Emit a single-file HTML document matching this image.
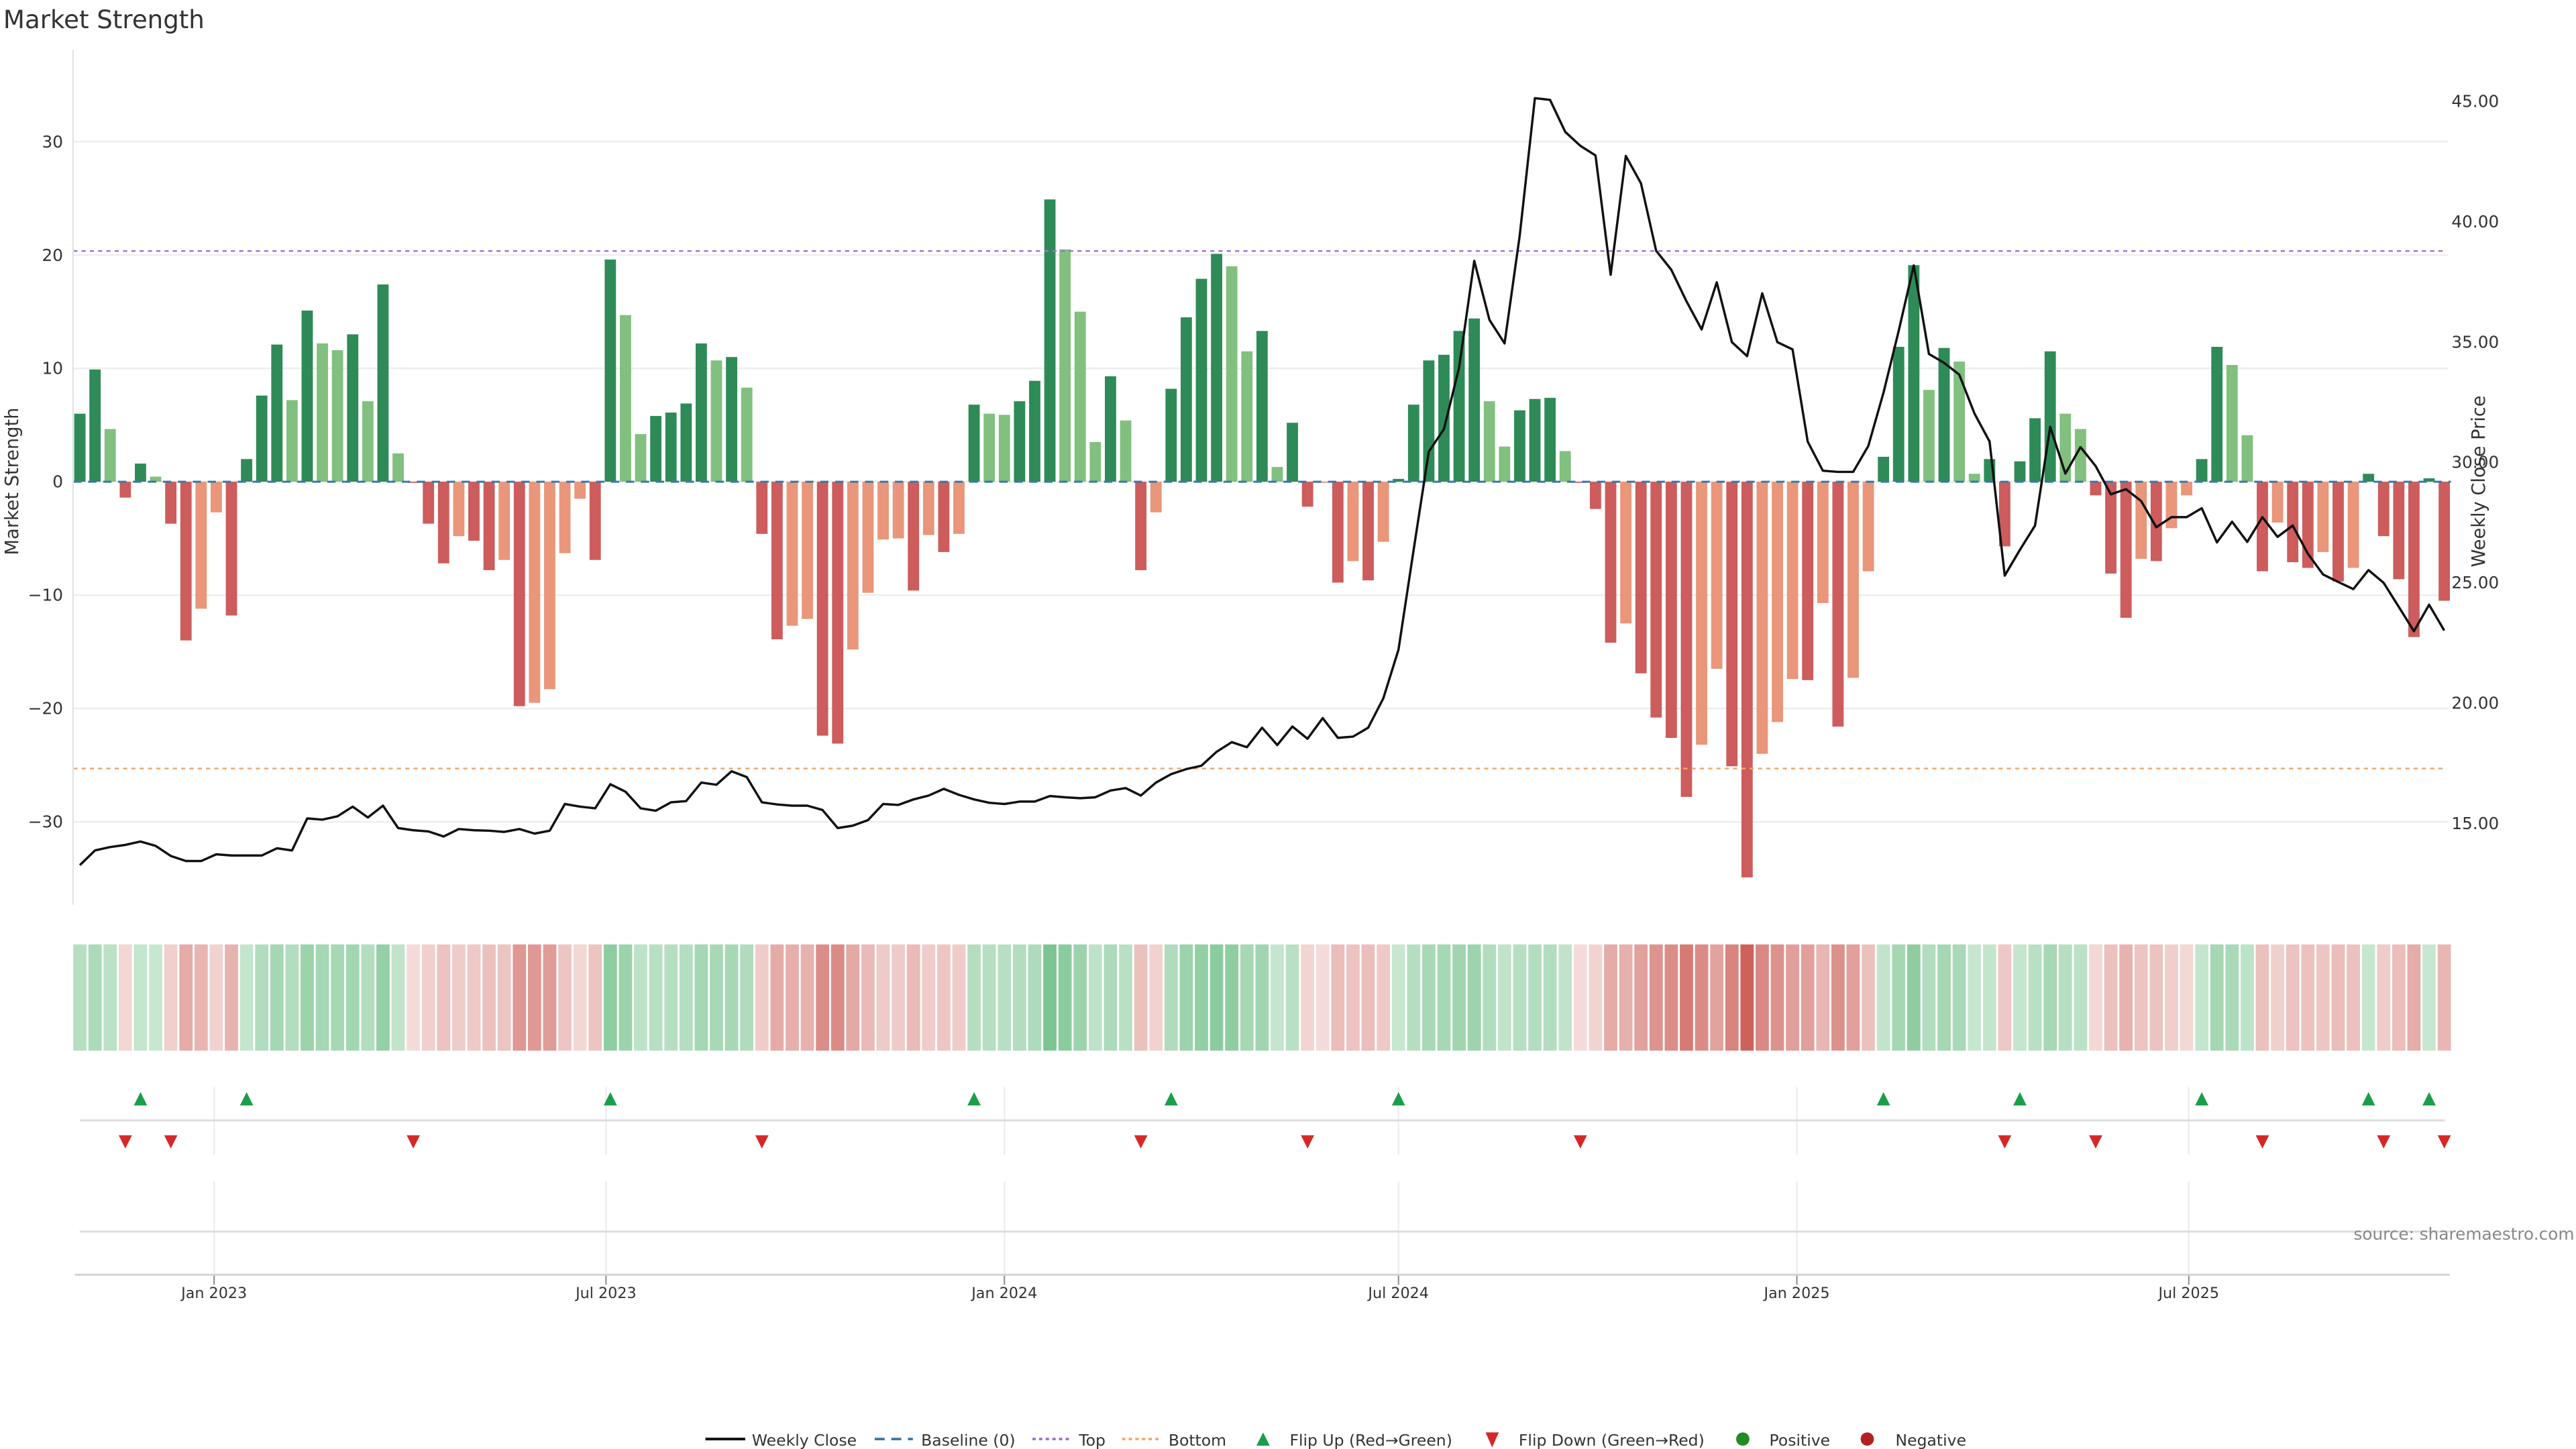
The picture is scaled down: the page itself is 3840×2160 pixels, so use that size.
<!DOCTYPE html>
<html><head><meta charset="utf-8"><title>Market Strength</title>
<style>
html,body{margin:0;padding:0;background:#fff;}
svg{display:block;font-family:"DejaVu Sans","Liberation Sans",sans-serif;}
</style></head>
<body>
<svg id="chart" width="3840" height="2160" viewBox="0 0 1552 873" preserveAspectRatio="none" xmlns="http://www.w3.org/2000/svg">
<rect width="1552" height="873" fill="#fff"/>
<text x="2" y="17" font-size="15" fill="#333">Market Strength</text>
<g id="grid"></g>
<g id="bars"></g>
<g id="lines"></g>
<g id="heat"></g>
<g id="flips"></g>
<g id="axes"></g>
<text transform="translate(11,290) rotate(-90)" text-anchor="middle" font-size="11" fill="#333">Market Strength</text>
<text transform="translate(1497,290) rotate(-90)" text-anchor="middle" font-size="11" fill="#333">Weekly Close Price</text>
<text x="1418" y="747" font-size="10" fill="#888">source: sharemaestro.com</text>
<g id="legend" font-size="9.5" fill="#333">
  <g><line x1="425" y1="867" x2="449" y2="867" stroke="#111" stroke-width="1.6"/><text x="453" y="871">Weekly Close</text></g>
  <g><line x1="527" y1="867" x2="550" y2="867" stroke="#3a78a8" stroke-width="1.5" stroke-dasharray="6,4"/><text x="555" y="871">Baseline (0)</text></g>
  <g><line x1="622" y1="867" x2="645" y2="867" stroke="#a070d8" stroke-width="1.5" stroke-dasharray="2,2"/><text x="650" y="871">Top</text></g>
  <g><line x1="676" y1="867" x2="699" y2="867" stroke="#f0a870" stroke-width="1.5" stroke-dasharray="2,2"/><text x="704" y="871">Bottom</text></g>
  <g><path d="M757,871 L765,871 L761,863 Z" fill="#1a9e4a"/><text x="777" y="871">Flip Up (Red→Green)</text></g>
  <g><path d="M895,863 L903,863 L899,872 Z" fill="#d62728"/><text x="915" y="871">Flip Down (Green→Red)</text></g>
  <g><circle cx="1050" cy="867" r="4" fill="#228b22"/><text x="1066" y="871">Positive</text></g>
  <g><circle cx="1125" cy="867" r="4" fill="#b22222"/><text x="1142" y="871">Negative</text></g>
</g>
</svg>
<script>
const strength = [6.0,9.9,4.65,-1.4,1.6,0.45,-3.7,-14.0,-11.2,-2.7,-11.8,2.0,7.6,12.1,7.2,15.1,12.2,11.6,13.0,7.1,17.4,2.5,-0.1,-3.7,-7.2,-4.8,-5.2,-7.8,-6.9,-19.8,-19.5,-18.3,-6.3,-1.5,-6.9,19.6,14.7,4.2,5.8,6.1,6.9,12.2,10.7,11.0,8.3,-4.6,-13.9,-12.7,-12.1,-22.4,-23.1,-14.8,-9.8,-5.1,-5.0,-9.6,-4.7,-6.2,-4.6,6.8,6.0,5.9,7.1,8.9,24.9,20.5,15.0,3.5,9.3,5.4,-7.8,-2.7,8.2,14.5,17.9,20.1,19.0,11.5,13.3,1.3,5.2,-2.2,-0.1,-8.9,-7.0,-8.7,-5.3,0.25,6.8,10.7,11.2,13.3,14.4,7.1,3.1,6.3,7.3,7.4,2.7,-0.1,-2.4,-14.2,-12.5,-16.9,-20.8,-22.6,-27.8,-23.2,-16.5,-25.1,-34.9,-24.0,-21.2,-17.4,-17.5,-10.7,-21.6,-17.3,-7.9,2.2,11.9,19.1,8.1,11.8,10.6,0.7,2.0,-5.7,1.8,5.6,11.5,6.0,4.65,-1.2,-8.1,-12.0,-6.8,-7.0,-4.1,-1.2,2.0,11.9,10.3,4.1,-7.9,-3.6,-7.1,-7.6,-6.2,-8.8,-7.6,0.7,-4.8,-8.6,-13.7,0.3,-10.5];
const closePrice = [13.26,13.87,14.01,14.10,14.24,14.06,13.64,13.43,13.43,13.71,13.66,13.66,13.66,13.96,13.87,15.20,15.15,15.29,15.69,15.24,15.73,14.80,14.71,14.66,14.45,14.76,14.71,14.69,14.64,14.76,14.57,14.69,15.80,15.69,15.62,16.62,16.31,15.62,15.52,15.87,15.92,16.69,16.60,17.16,16.92,15.87,15.78,15.73,15.73,15.55,14.80,14.90,15.13,15.80,15.76,15.99,16.15,16.43,16.18,15.99,15.85,15.80,15.90,15.90,16.13,16.08,16.04,16.08,16.36,16.46,16.15,16.69,17.04,17.25,17.39,17.97,18.37,18.16,18.97,18.25,19.02,18.51,19.37,18.55,18.60,18.97,20.19,22.21,26.36,30.44,31.38,33.94,38.37,35.92,34.94,39.42,45.13,45.06,43.73,43.15,42.75,37.79,42.73,41.59,38.79,38.00,36.69,35.52,37.48,34.99,34.41,37.02,34.99,34.69,30.86,29.65,29.60,29.60,30.68,32.89,35.45,38.18,34.50,34.13,33.64,32.03,30.86,25.29,26.36,27.37,31.47,29.53,30.63,29.84,28.67,28.88,28.39,27.30,27.72,27.72,28.09,26.67,27.53,26.69,27.72,26.90,27.37,26.20,25.34,25.03,24.73,25.52,24.99,23.99,22.98,24.08,23.01];
const startDate = "2022-10-31";
const topLevel = 20.35;
const bottomLevel = -25.3;
const leftTicks = [-30,-20,-10,0,10,20,30];
const rightTicks = [15,20,25,30,35,40,45];
const dateTicks = ["2023-01-01","2023-07-01","2024-01-01","2024-07-01","2025-01-01","2025-07-01"];
const dateTickLabels = ["Jan 2023","Jul 2023","Jan 2024","Jul 2024","Jan 2025","Jul 2025"];

const NS = "http://www.w3.org/2000/svg";
const DAY = 86400000;
const t0 = Date.parse("2023-01-01T00:00:00Z");
function xDate(ms){ return 129 + (ms - t0) / DAY * 1.3045; }
function barDate(i){ return Date.parse(startDate + "T00:00:00Z") + i * 7 * DAY; }
function xBar(i){ return xDate(barDate(i)); }
function yL(v){ return 545 - (v - (-37.3)) / (38.1 - (-37.3)) * 515; }
function yR(v){ return 545 - (v - 11.62) / (47.14 - 11.62) * 515; }
function mk(tag, attrs, parent){ const e = document.createElementNS(NS, tag); for (const k in attrs) e.setAttribute(k, attrs[k]); parent.appendChild(e); return e; }

const grid = document.getElementById('grid');
const axes = document.getElementById('axes');
// horizontal gridlines + left ticks
leftTicks.forEach(v => {
  const l = mk('line', {x1:44, x2:1475, y1:yL(v), y2:yL(v), stroke:'#eeeeee', 'stroke-width':1}, grid);
  
  
  const t = mk('text', {x:38, y:yL(v)+3.5, 'text-anchor':'end', 'font-size':10, fill:'#333'}, axes);
  t.textContent = v < 0 ? '\u2212' + Math.abs(v) : String(v);
  
  
});
rightTicks.forEach(v => {
  const t = mk('text', {x:1477, y:yR(v)+3.5, 'font-size':10, fill:'#333'}, axes);
  t.textContent = v.toFixed(2);
  
  
});
const spine = mk('line', {x1:44, x2:44, y1:30, y2:545, stroke:'#e4e4e4', 'stroke-width':1}, axes);



// bars
const barsG = document.getElementById('bars');
const y0 = yL(0);
strength.forEach((v, i) => {
  const prev = i > 0 ? strength[i-1] : 0;
  let fill;
  if (v >= 0) fill = (v >= prev) ? '#2e8b57' : '#81c07e';
  else fill = (v <= prev) ? '#cd5c5c' : '#e9967a';
  const yv = yL(v);
  const r = mk('rect', {x:xBar(i)-3.4, width:6.8, y:Math.min(yv, y0), height:Math.max(Math.abs(yv - y0), 0.5), fill:fill}, barsG);
  
  
});

// lines
const linesG = document.getElementById('lines');
const base = mk('line', {x1:xBar(0)-4, x2:xBar(strength.length-1)+4, y1:y0, y2:y0, stroke:'#3a78a8', 'stroke-width':1.2, 'stroke-dasharray':'5,4'}, linesG);


const topL = mk('line', {x1:xBar(0)-4, x2:1473, y1:yL(topLevel), y2:yL(topLevel), stroke:'#a070d8', 'stroke-width':1, 'stroke-dasharray':'2.5,2.5'}, linesG);


const botL = mk('line', {x1:xBar(0)-4, x2:1473, y1:yL(bottomLevel), y2:yL(bottomLevel), stroke:'#f0a870', 'stroke-width':1, 'stroke-dasharray':'2.5,2.5'}, linesG);


const pts = closePrice.map((p, i) => xBar(i).toFixed(2) + ',' + yR(p).toFixed(2)).join(' ');
const pl = mk('polyline', {points:pts, fill:'none', stroke:'#111', 'stroke-width':1.4, 'stroke-linejoin':'round'}, linesG);



// heatmap strip
const heatG = document.getElementById('heat');
strength.forEach((v, i) => {
  const t = Math.min(Math.abs(v) / 35, 1);
  const fill = v >= 0 ? 'rgb(40,160,75)' : 'rgb(200,80,72)';
  const op = v >= 0 ? 0.25 + 0.5 * t : 0.2 + 0.7 * t;
  const r = mk('rect', {x:xBar(i)-4, width:8, y:569, height:64, fill:fill, 'fill-opacity':op.toFixed(3)}, heatG);
  
  
});

// flip panel & lower panel
const flipsG = document.getElementById('flips');
dateTicks.forEach((d, k) => {
  const x = xDate(Date.parse(d + "T00:00:00Z"));
  const g1 = mk('line', {x1:x, x2:x, y1:655, y2:696, stroke:'#eeeeee', 'stroke-width':1}, grid);
  
  
  const g2 = mk('line', {x1:x, x2:x, y1:712, y2:768, stroke:'#eeeeee', 'stroke-width':1}, grid);
  
  
  const tk = mk('line', {x1:x, x2:x, y1:768, y2:774, stroke:'#888', 'stroke-width':0.8}, axes);
  
  
  const tl = mk('text', {x:x, y:782, 'text-anchor':'middle', 'font-size':9, fill:'#333'}, axes);
  tl.textContent = dateTickLabels[k];
  
  
});
const fl = mk('line', {x1:48, x2:1473, y1:675, y2:675, stroke:'#dddddd', 'stroke-width':1.2}, flipsG);


const ll = mk('line', {x1:48, x2:1476, y1:742, y2:742, stroke:'#dddddd', 'stroke-width':1.2}, flipsG);


const xa = mk('line', {x1:45, x2:1476, y1:768, y2:768, stroke:'#d4d4d4', 'stroke-width':1.2}, axes);


for (let i = 1; i < strength.length; i++) {
  const a = strength[i-1], b = strength[i];
  const x = xBar(i);
  if (a < 0 && b >= 0) {
    const m = mk('path', {d:`M${x-4},666 L${x+4},666 L${x},658 Z`, fill:'#1a9e4a'}, flipsG);
    
    
  } else if (a >= 0 && b < 0) {
    const m = mk('path', {d:`M${x-4},684 L${x+4},684 L${x},692 Z`, fill:'#d62728'}, flipsG);
    
    
  }
}
</script>
</body></html>
